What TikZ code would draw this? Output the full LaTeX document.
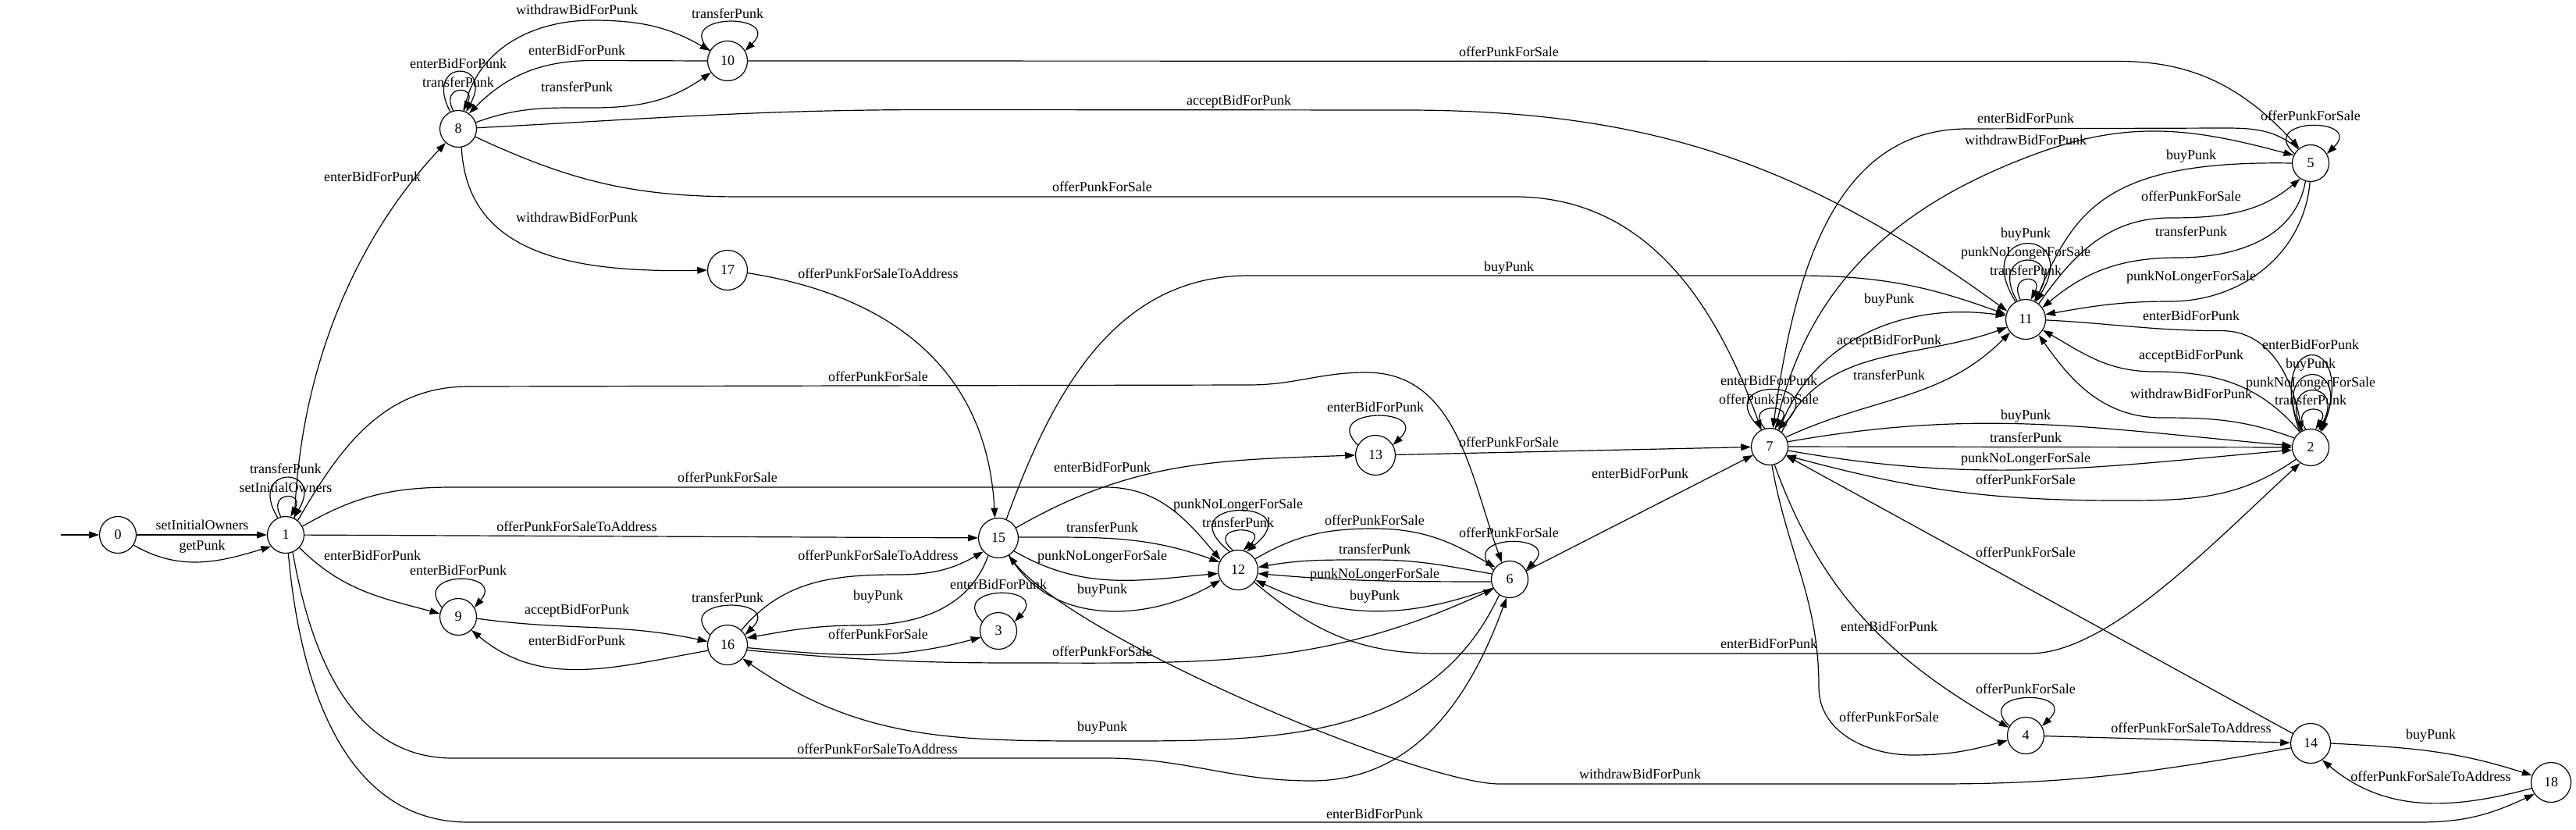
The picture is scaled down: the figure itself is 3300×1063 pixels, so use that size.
\documentclass[tikz,border=0pt]{standalone}
\usepackage{fontspec}
\setmainfont{Liberation Serif}
\usetikzlibrary{arrows.meta}
\tikzset{
 st/.style={circle, draw, line width=0.9pt, minimum size=35.25pt, inner sep=0pt, font=\fontsize{13.5pt}{16pt}\selectfont},
 stb/.style={st, minimum size=38.25pt},
 conn/.style={draw, line width=0.9pt, -{Triangle[length=9.5pt,width=6.5pt]}},
 lab/.style={inner sep=0pt, font=\fontsize{13.5pt}{16pt}\selectfont, text height=0.68em, text depth=0pt}
}
\newcommand{\selfloop}[5]{\draw[conn] (#1.#2) .. controls +(-#4,#5) and +(#4,#5) .. (#1.#3);}
\begin{document}
\begin{tikzpicture}[x=0.75pt,y=0.75pt]
\useasboundingbox (0,0) rectangle (3300,-1063);
% states
\node[st]  (n0)  at (151,-685) {0};
\node[st]  (n1)  at (366,-685) {1};
\node[st]  (n8)  at (587,-165) {8};
\node[stb] (n10) at (932,-78) {10};
\node[stb] (n17) at (932,-346) {17};
\node[st]  (n9)  at (587,-790) {9};
\node[stb] (n16) at (932,-826) {16};
\node[stb] (n15) at (1279,-689) {15};
\node[st]  (n3)  at (1279,-808) {3};
\node[stb] (n12) at (1586,-730) {12};
\node[stb] (n13) at (1762,-583) {13};
\node[st]  (n6)  at (1934,-742) {6};
\node[st]  (n7)  at (2267,-572) {7};
\node[stb] (n11) at (2595,-409) {11};
\node[st]  (n5)  at (2960,-209) {5};
\node[st]  (n2)  at (2960,-573) {2};
\node[st]  (n4)  at (2595,-942) {4};
\node[stb] (n14) at (2960,-952) {14};
\node[stb] (n18) at (3268,-1002) {18};
\coordinate (init) at (78,-685);

% edges
\draw[conn] (init) -- (n0);
\draw[conn] (n0) -- (n1);
\draw[conn] (n0.-33) to[out=-30,in=197] (n1.218);
\selfloop{n1}{105}{75}{18}{33}
\selfloop{n1}{115}{65}{41}{67.6}
\draw[conn] (n1.62) .. controls (385,-450) and (470,-290) .. (n8.228);
\draw[conn] (n1) -- (n15);
\draw[conn] (n1.-43) to[out=-45,in=165] (n9.170);
\draw[conn] (n1.27) to[out=30,in=180] (580,-624) -- (1416,-624) to[out=0,in=130] (n12.150);
\draw[conn] (n1.50) to[out=60,in=180] (600,-495) -- (1600,-493) to[out=0,in=180] (1750,-477) to[out=0,in=110] (n6.115);
\draw[conn] (n1.-68) to[out=-80,in=180] (580,-971) -- (1416,-971) to[out=0,in=180] (1680,-1000) to[out=0,in=250] (n6.260);
\draw[conn] (n1.-82) to[out=-85,in=180] (600,-1053) -- (3100,-1053) to[out=0,in=205] (n18.215);

\selfloop{n8}{105}{75}{18}{33}
\selfloop{n8}{115}{65}{36}{67.6}
\draw[conn] (n8.72) to[out=80,in=180] (759,-26) to[out=0,in=150] (n10.150);
\draw[conn] (n10.180) -- (760,-77.5) to[out=180,in=45] (n8.55);
\draw[conn] (n8.20) to[out=20,in=180] (759,-138) to[out=0,in=215] (n10.215);
\selfloop{n10}{150}{30}{50}{49}
\draw[conn] (n10.0) -- (2715,-78.5) to[out=0,in=133] (n5.127);
\draw[conn] (n8.3) to[out=3,in=180] (1199,-140.5) -- (1800,-141) to[out=0,in=144] (n11.156);
\draw[conn] (n8.-25) to[out=-25,in=180] (950,-252) -- (1940,-252) to[out=0,in=110] (n7.116);
\draw[conn] (n8.-80) .. controls (598,-320) and (720,-350) .. (n17.180);
\draw[conn] (n17.-8) .. controls (1150,-380) and (1265,-480) .. (n15.100);
\draw[conn] (n15.67) to[out=70,in=180] (1600,-353) -- (2300,-353) to[out=0,in=160] (n11.166);
\draw[conn] (n15.30) to[out=30,in=182] (n13.180);
\draw[conn] (n15.2) to[out=0,in=160] (n12.157);
\draw[conn] (n15.-40) to[out=-30,in=185] (n12.190);
\draw[conn] (n15.-58) to[out=-60,in=210] (n12.210);
\draw[conn] (n16.47) to[out=50,in=180] (1150,-736) to[out=0,in=210] (n15.222);
\draw[conn] (n15.-120) to[out=-110,in=0] (1100,-801) to[out=180,in=10] (n16.20);
\draw[conn] (n16.-8) to[out=-5,in=195] (n3.200);
\draw[conn] (n16.-15) to[out=-5,in=180] (1300,-849) to[out=0,in=205] (n6.210);
\draw[conn] (n6.-124) to[out=-115,in=0] (1416,-949) to[out=180,in=-35] (n16.-42);
\draw[conn] (n9.-5) to[out=-8,in=168] (n16.170);
\draw[conn] (n16.196) to[out=190,in=-40] (n9.-45);
\selfloop{n9}{150}{30}{40}{47.3}
\selfloop{n16}{150}{30}{50}{49}
\selfloop{n3}{150}{30}{45}{47.3}
\selfloop{n12}{105}{75}{37.5}{33.2}
\selfloop{n12}{115}{65}{85}{69.2}
\draw[conn] (n12.33) to[out=30,in=180] (1760,-677) to[out=0,in=150] (n6.140);
\draw[conn] (n6.163) to[out=170,in=0] (1758,-717) to[out=180,in=10] (n12.8);
\draw[conn] (n6.187) to[out=180,in=-5] (n12.-10);
\draw[conn] (n6.207) to[out=200,in=-25] (n12.-30);
\draw[conn] (n12.-37) to[out=-40,in=180] (1840,-837) -- (2600,-837) .. controls (2700,-837) and (2830,-700) .. (n2.236);
\draw[conn] (n14.193) to[out=190,in=0] (2480,-1004) -- (1921,-1004) .. controls (1820,-1004) and (1380,-820) .. (n15.-60);
\selfloop{n6}{150}{30}{49}{47.3}
\draw[conn] (n6) -- (n7);
\selfloop{n13}{150}{30}{50}{49}
\draw[conn] (n13) -- (n7);
\selfloop{n7}{105}{75}{29}{33}
\selfloop{n7}{115}{65}{72}{67.6}
\draw[conn] (n7.60) to[out=70,in=172] (n11.170);
\draw[conn] (n7.50) to[out=65,in=200] (n11.203);
\draw[conn] (n7.30) to[out=25,in=225] (n11.220);
\draw[conn] (n7.15) to[out=10,in=175] (n2.175);
\draw[conn] (n7) -- (n2);
\draw[conn] (n7.-12) to[out=-10,in=185] (n2.188);
\draw[conn] (n2.219) to[out=215,in=0] (2715,-641) to[out=180,in=-15] (n7.-28);
\draw[conn] (n14) -- (n7);
\draw[conn] (n7.-75) to[out=-70,in=150] (n4.155);
\draw[conn] (n7.-83) to[out=-80,in=90] (2330,-880) to[out=-90,in=180] (2450,-967) to[out=0,in=195] (n4.195);
\selfloop{n4}{150}{30}{49}{47.3}
\draw[conn] (n4) -- (n14);
\draw[conn] (n14.0) to[out=-3,in=162] (n18.160);
\draw[conn] (n18.197) to[out=195,in=-40] (n14.-55);
\draw[conn] (n7.72) to[out=78,in=200] (2611,-196) to[out=20,in=165] (n5.155);
\draw[conn] (n5.131) to[out=140,in=0] (2850,-164) -- (2520,-165) to[out=180,in=82] (n7.80);
\selfloop{n5}{150}{30}{49}{47.3}
\draw[conn] (n5.180) .. controls (2700,-205) and (2658,-268) .. (n11.62);
\draw[conn] (n11.50) to[out=55,in=180] (2780,-279) to[out=0,in=220] (n5.236);
\draw[conn] (n5.254) to[out=-100,in=0] (2790,-330) to[out=180,in=40] (n11.35);
\draw[conn] (n5.-92) to[out=-95,in=0] (2780,-386) to[out=180,in=10] (n11.14);
\selfloop{n11}{105}{75}{16.7}{33.2}
\selfloop{n11}{115}{65}{39.8}{67.9}
\selfloop{n11}{120}{60}{60.4}{97.9}
\draw[conn] (n11.-2) to[out=-3,in=180] (2846,-423.6) to[out=0,in=100] (n2.118);
\draw[conn] (n2.125) to[out=130,in=0] (2760,-476) to[out=180,in=-30] (n11.-32);
\draw[conn] (n2.150) to[out=160,in=0] (2770,-535) to[out=180,in=-55] (n11.-50);
\selfloop{n2}{105}{75}{21.9}{32.4}
\selfloop{n2}{115}{65}{35.8}{66.9}
\selfloop{n2}{120}{60}{44.8}{94.8}
\selfloop{n2}{125}{55}{47}{129.6}

% labels
\node[lab] at (259,-674) {setInitialOwners};
\node[lab] at (259,-700) {getPunk};
\node[lab] at (366,-602) {transferPunk};
\node[lab] at (366,-626) {setInitialOwners};
\node[lab] at (477,-228) {enterBidForPunk};
\node[lab] at (739,-676) {offerPunkForSaleToAddress};
\node[lab] at (477,-713) {enterBidForPunk};
\node[lab] at (932,-613) {offerPunkForSale};
\node[lab] at (1125,-484) {offerPunkForSale};
\node[lab] at (1124,-961) {offerPunkForSaleToAddress};
\node[lab] at (1761,-1044) {enterBidForPunk};
\node[lab] at (587,-83) {enterBidForPunk};
\node[lab] at (587,-107) {transferPunk};
\node[lab] at (739,-14) {withdrawBidForPunk};
\node[lab] at (739,-66) {enterBidForPunk};
\node[lab] at (739,-113) {transferPunk};
\node[lab] at (932,-19) {transferPunk};
\node[lab] at (1933,-68) {offerPunkForSale};
\node[lab] at (1587,-130) {acceptBidForPunk};
\node[lab] at (1412,-241) {offerPunkForSale};
\node[lab] at (739,-280) {withdrawBidForPunk};
\node[lab] at (1125,-352) {offerPunkForSaleToAddress};
\node[lab] at (1933,-343) {buyPunk};
\node[lab] at (1412,-600) {enterBidForPunk};
\node[lab] at (1412,-677) {transferPunk};
\node[lab] at (1412,-713) {punkNoLongerForSale};
\node[lab] at (1412,-756) {buyPunk};
\node[lab] at (1125,-713) {offerPunkForSaleToAddress};
\node[lab] at (1125,-764) {buyPunk};
\node[lab] at (1125,-814) {offerPunkForSale};
\node[lab] at (1412,-836) {offerPunkForSale};
\node[lab] at (1412,-932) {buyPunk};
\node[lab] at (587,-732) {enterBidForPunk};
\node[lab] at (739,-782) {acceptBidForPunk};
\node[lab] at (739,-822) {enterBidForPunk};
\node[lab] at (932,-767) {transferPunk};
\node[lab] at (1279,-750) {enterBidForPunk};
\node[lab] at (1586,-647) {punkNoLongerForSale};
\node[lab] at (1586,-671) {transferPunk};
\node[lab] at (1761,-668) {offerPunkForSale};
\node[lab] at (1761,-705) {transferPunk};
\node[lab] at (1761,-736) {punkNoLongerForSale};
\node[lab] at (1761,-764) {buyPunk};
\node[lab] at (2266,-826) {enterBidForPunk};
\node[lab] at (2101,-993) {withdrawBidForPunk};
\node[lab] at (1933,-684) {offerPunkForSale};
\node[lab] at (2101,-608) {enterBidForPunk};
\node[lab] at (1933,-568) {offerPunkForSale};
\node[lab] at (1762,-523) {enterBidForPunk};
\node[lab] at (2266,-489) {enterBidForPunk};
\node[lab] at (2266,-513) {offerPunkForSale};
\node[lab] at (2420,-384) {buyPunk};
\node[lab] at (2420,-437) {acceptBidForPunk};
\node[lab] at (2420,-482) {transferPunk};
\node[lab] at (2595,-533) {buyPunk};
\node[lab] at (2595,-562) {transferPunk};
\node[lab] at (2595,-588) {punkNoLongerForSale};
\node[lab] at (2595,-616) {offerPunkForSale};
\node[lab] at (2595,-709) {offerPunkForSale};
\node[lab] at (2420,-804) {enterBidForPunk};
\node[lab] at (2420,-920) {offerPunkForSale};
\node[lab] at (2595,-884) {offerPunkForSale};
\node[lab] at (2807,-934) {offerPunkForSaleToAddress};
\node[lab] at (3114,-942) {buyPunk};
\node[lab] at (3114,-996) {offerPunkForSaleToAddress};
\node[lab] at (2595,-153) {enterBidForPunk};
\node[lab] at (2595,-181) {withdrawBidForPunk};
\node[lab] at (2960,-150) {offerPunkForSale};
\node[lab] at (2807,-200) {buyPunk};
\node[lab] at (2807,-253) {offerPunkForSale};
\node[lab] at (2807,-298) {transferPunk};
\node[lab] at (2807,-355) {punkNoLongerForSale};
\node[lab] at (2595,-300) {buyPunk};
\node[lab] at (2595,-324) {punkNoLongerForSale};
\node[lab] at (2595,-348) {transferPunk};
\node[lab] at (2807,-406) {enterBidForPunk};
\node[lab] at (2807,-456) {acceptBidForPunk};
\node[lab] at (2807,-506) {withdrawBidForPunk};
\node[lab] at (2960,-443) {enterBidForPunk};
\node[lab] at (2960,-467) {buyPunk};
\node[lab] at (2960,-491) {punkNoLongerForSale};
\node[lab] at (2960,-514) {transferPunk};
\end{tikzpicture}
\end{document}
